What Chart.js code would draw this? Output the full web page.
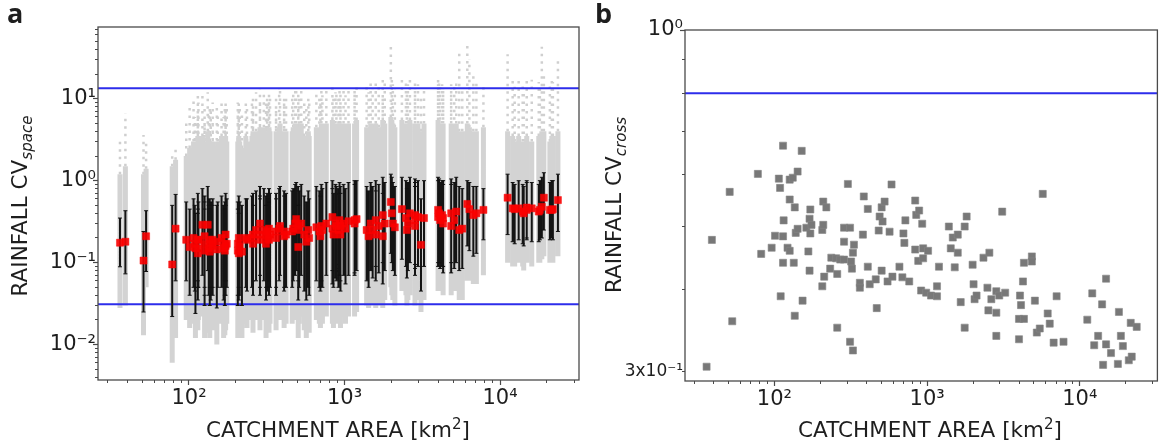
<!DOCTYPE html>
<html>
<head>
<meta charset="utf-8">
<script src="https://cdn.jsdelivr.net/npm/chart.js@4.4.1/dist/chart.umd.min.js"></script>
<style>
  html, body { margin: 0; padding: 0; background: #fff; overflow: hidden; }
  body { width: 1161px; height: 443px; position: relative; font-family: "DejaVu Sans", sans-serif; color: #1e1e1e; }
  canvas { position: absolute; top: 0; }
  #chartA { left: 0; }
  #chartB { left: 590px; }
  .tag { position: absolute; top: -1px; font: bold 27px "Open Sans", sans-serif; line-height: 1; }
  .xt, .yt { position: absolute; font-size: 21.5px; line-height: 1; white-space: nowrap; }
  .xt { top: 419px; transform: translateX(-50%); }
  .yt { transform: translate(-50%, -50%) rotate(-90deg); }
  sub { font-size: 0.7em; font-style: italic; vertical-align: -0.3em; line-height: 0; }
  sup { font-size: 0.7em; vertical-align: 0.5em; line-height: 0; }
</style>
</head>
<body>
<canvas id="chartA" width="590" height="443"></canvas>
<canvas id="chartB" width="573" height="443"></canvas>
<div class="tag" style="left:7px">a</div>
<div class="tag" style="left:595px">b</div>
<div class="yt" style="left:20px; top:206px">RAINFALL CV<sub>space</sub></div>
<div class="yt" style="left:614px; top:205px">RAINFALL CV<sub>cross</sub></div>
<div class="xt" style="left:338px">CATCHMENT AREA [km<sup>2</sup>]</div>
<div class="xt" style="left:930px">CATCHMENT AREA [km<sup>2</sup>]</div>
<script>
// catchment areas [km2], one per catchment, shared by both panels
const areaKm2 = [
  36, 39, 51, 53, 78, 82, 96, 101, 107, 109,
  110, 114, 114, 114, 115, 122, 126, 126, 126, 132,
  134, 136, 136, 138, 142, 142, 151, 153, 162, 167,
  170, 170, 172, 172, 175, 206, 206, 209, 209, 212,
  219, 232, 236, 254, 258, 258, 270, 286, 286, 286,
  303, 313, 313, 318, 322, 327, 327, 332, 363, 363,
  380, 385, 409, 409, 421, 461, 468, 482, 489, 504,
  504, 511, 527, 551, 568, 585, 593, 659, 689, 700,
  710, 721, 764, 836, 836, 849, 875, 887, 914, 929,
  942, 942, 986, 1015, 1061, 1161, 1161, 1196, 1388, 1429,
  1473, 1517, 1588, 1588, 1660, 1762, 1762, 1815, 1986, 2015,
  2046, 2108, 2339, 2483, 2519, 2557, 2634, 2840, 2840, 2840,
  2968, 3103, 3245, 3997, 3997, 4058, 4120, 4244, 4306, 4306,
  4852, 4852, 5078, 5229, 5467, 5718, 6161, 6353, 6737, 7047,
  7820, 11190, 12060, 12420, 13180, 13990, 14200, 14850, 14850, 16000,
  17750, 18030, 18570, 19140, 20920, 21540, 21870, 23570
];

// panel b: cross CV per catchment
const cvCross = [
  0.305, 0.477, 0.565, 0.358, 0.602, 0.454, 0.464, 0.484, 0.592, 0.573,
  0.391, 0.665, 0.483, 0.440, 0.511, 0.464, 0.590, 0.550, 0.459, 0.594,
  0.440, 0.535, 0.365, 0.489, 0.607, 0.496, 0.653, 0.385, 0.498, 0.458,
  0.514, 0.428, 0.531, 0.488, 0.503, 0.494, 0.405, 0.546, 0.503, 0.419,
  0.535, 0.431, 0.448, 0.447, 0.423, 0.350, 0.445, 0.498, 0.474, 0.445,
  0.581, 0.498, 0.333, 0.442, 0.431, 0.456, 0.323, 0.469, 0.410, 0.403,
  0.486, 0.556, 0.532, 0.434, 0.408, 0.415, 0.375, 0.493, 0.518, 0.535,
  0.428, 0.509, 0.546, 0.412, 0.491, 0.580, 0.419, 0.434, 0.418, 0.488,
  0.472, 0.511, 0.412, 0.548, 0.461, 0.521, 0.443, 0.529, 0.399, 0.505,
  0.463, 0.447, 0.396, 0.459, 0.392, 0.391, 0.405, 0.434, 0.500, 0.463,
  0.481, 0.433, 0.486, 0.456, 0.383, 0.500, 0.350, 0.518, 0.437, 0.408,
  0.387, 0.392, 0.448, 0.403, 0.372, 0.456, 0.387, 0.398, 0.369, 0.340,
  0.392, 0.527, 0.396, 0.361, 0.336, 0.392, 0.379, 0.412, 0.440, 0.361,
  0.450, 0.442, 0.385, 0.344, 0.349, 0.561, 0.368, 0.355, 0.332, 0.391,
  0.333, 0.360, 0.395, 0.329, 0.340, 0.380, 0.307, 0.416, 0.330, 0.320,
  0.308, 0.370, 0.340, 0.328, 0.312, 0.356, 0.316, 0.351
];

// panel a: spatial CV per catchment (median, error bar ends, spread of all events)
const cvSpaceMedian = [
  0.175, 0.18, 0.106, 0.21, 0.095, 0.26, 0.19, 0.155, 0.20, 0.17,
  0.15, 0.19, 0.15, 0.13, 0.19, 0.29, 0.21, 0.17, 0.14, 0.29,
  0.15, 0.136, 0.19, 0.17, 0.19, 0.16, 0.145, 0.18, 0.20, 0.15,
  0.17, 0.14, 0.22, 0.16, 0.17, 0.17, 0.14, 0.20, 0.13, 0.16,
  0.136, 0.20, 0.19, 0.20, 0.22, 0.17, 0.25, 0.30, 0.22, 0.19,
  0.25, 0.21, 0.17, 0.24, 0.20, 0.26, 0.19, 0.22, 0.24, 0.20,
  0.26, 0.28, 0.24, 0.21, 0.22, 0.24, 0.26, 0.30, 0.34, 0.28,
  0.155, 0.25, 0.30, 0.22, 0.18, 0.25, 0.20, 0.27, 0.24, 0.21,
  0.28, 0.25, 0.30, 0.36, 0.26, 0.22, 0.30, 0.28, 0.25, 0.33,
  0.22, 0.28, 0.30, 0.26, 0.32, 0.33, 0.30, 0.34, 0.25, 0.21,
  0.30, 0.25, 0.33, 0.22, 0.28, 0.38, 0.21, 0.30, 0.55, 0.40,
  0.30, 0.27, 0.45, 0.35, 0.25, 0.30, 0.40, 0.38, 0.33, 0.28,
  0.36, 0.165, 0.35, 0.44, 0.36, 0.40, 0.33, 0.38, 0.30, 0.35,
  0.28, 0.40, 0.33, 0.42, 0.25, 0.26, 0.52, 0.45, 0.38, 0.40,
  0.44, 0.62, 0.46, 0.45, 0.46, 0.42, 0.40, 0.44, 0.47, 0.46,
  0.42, 0.44, 0.48, 0.62, 0.44, 0.44, 0.45, 0.58
];
const cvSpaceLow = [
  0.089, 0.073, 0.025, 0.078, 0.022, 0.06, 0.06, 0.04, 0.05, 0.045,
  0.024, 0.06, 0.05, 0.035, 0.05, 0.07, 0.05, 0.04, 0.03, 0.08,
  0.04, 0.03, 0.05, 0.035, 0.05, 0.04, 0.028, 0.05, 0.05, 0.035,
  0.04, 0.03, 0.06, 0.04, 0.05, 0.04, 0.03, 0.05, 0.035, 0.04,
  0.03, 0.05, 0.045, 0.05, 0.06, 0.04, 0.06, 0.07, 0.05, 0.04,
  0.06, 0.05, 0.035, 0.05, 0.045, 0.06, 0.04, 0.05, 0.05, 0.04,
  0.06, 0.07, 0.05, 0.045, 0.05, 0.05, 0.06, 0.07, 0.08, 0.06,
  0.035, 0.05, 0.07, 0.045, 0.035, 0.05, 0.04, 0.06, 0.05, 0.045,
  0.06, 0.05, 0.07, 0.08, 0.055, 0.05, 0.065, 0.06, 0.05, 0.07,
  0.045, 0.06, 0.07, 0.055, 0.07, 0.075, 0.07, 0.08, 0.06, 0.05,
  0.08, 0.065, 0.09, 0.06, 0.075, 0.10, 0.055, 0.08, 0.13, 0.10,
  0.08, 0.07, 0.11, 0.09, 0.065, 0.08, 0.10, 0.095, 0.085, 0.07,
  0.09, 0.045, 0.09, 0.10, 0.09, 0.10, 0.085, 0.09, 0.075, 0.09,
  0.075, 0.10, 0.085, 0.10, 0.08, 0.085, 0.16, 0.14, 0.12, 0.13,
  0.19, 0.22, 0.18, 0.17, 0.19, 0.17, 0.16, 0.19, 0.20, 0.18,
  0.18, 0.19, 0.20, 0.25, 0.19, 0.20, 0.19, 0.24
];
const cvSpaceHigh = [
  0.35, 0.43, 0.24, 0.43, 0.50, 0.68, 0.55, 0.45, 0.60, 0.50,
  0.40, 0.70, 0.45, 0.40, 0.55, 0.80, 0.65, 0.55, 0.45, 0.85,
  0.50, 0.45, 0.60, 0.55, 0.60, 0.50, 0.50, 0.55, 0.65, 0.50,
  0.55, 0.45, 0.70, 0.50, 0.60, 0.55, 0.45, 0.65, 0.40, 0.55,
  0.50, 0.60, 0.60, 0.65, 0.70, 0.50, 0.75, 0.85, 0.65, 0.60,
  0.80, 0.65, 0.50, 0.70, 0.60, 0.80, 0.55, 0.70, 0.70, 0.60,
  0.80, 0.85, 0.75, 0.65, 0.70, 0.75, 0.80, 0.90, 0.95, 0.85,
  0.50, 0.75, 0.90, 0.65, 0.55, 0.75, 0.60, 0.85, 0.75, 0.65,
  0.90, 0.80, 0.95, 1.0, 0.80, 0.70, 0.90, 0.85, 0.80, 0.95,
  0.70, 0.85, 0.90, 0.80, 0.95, 1.0, 0.90, 1.0, 0.85, 0.75,
  0.95, 0.85, 1.0, 0.75, 0.90, 1.1, 0.70, 0.95, 1.2, 1.1,
  0.95, 0.85, 1.1, 1.0, 0.80, 0.95, 1.1, 1.05, 0.95, 0.85,
  1.0, 0.60, 1.0, 1.1, 1.0, 1.05, 0.95, 1.0, 0.90, 1.0,
  0.90, 1.05, 0.95, 1.1, 0.85, 0.80, 1.0, 0.95, 0.85, 0.85,
  0.80, 1.2, 0.95, 0.90, 1.0, 0.90, 0.85, 0.95, 1.0, 0.95,
  0.90, 1.0, 1.1, 1.25, 0.95, 1.0, 1.0, 1.2
];
const cvSpaceMin = [
  0.028, 0.030, 0.013, 0.05, 0.006, 0.012, 0.02, 0.016, 0.018, 0.02,
  0.012, 0.02, 0.016, 0.015, 0.02, 0.022, 0.018, 0.015, 0.012, 0.025,
  0.014, 0.012, 0.02, 0.016, 0.018, 0.015, 0.01, 0.02, 0.018, 0.012,
  0.015, 0.013, 0.02, 0.015, 0.018, 0.015, 0.012, 0.02, 0.014, 0.015,
  0.012, 0.018, 0.016, 0.02, 0.02, 0.014, 0.02, 0.022, 0.016, 0.015,
  0.02, 0.016, 0.012, 0.018, 0.016, 0.02, 0.014, 0.018, 0.018, 0.015,
  0.02, 0.022, 0.018, 0.016, 0.018, 0.018, 0.02, 0.022, 0.025, 0.02,
  0.012, 0.018, 0.022, 0.015, 0.012, 0.018, 0.014, 0.02, 0.018, 0.016,
  0.02, 0.018, 0.022, 0.025, 0.018, 0.016, 0.02, 0.02, 0.018, 0.022,
  0.016, 0.02, 0.022, 0.018, 0.022, 0.024, 0.022, 0.025, 0.03, 0.028,
  0.035, 0.03, 0.035, 0.028, 0.03, 0.04, 0.028, 0.035, 0.05, 0.04,
  0.035, 0.03, 0.045, 0.04, 0.03, 0.035, 0.04, 0.04, 0.035, 0.03,
  0.035, 0.025, 0.035, 0.05, 0.045, 0.05, 0.045, 0.05, 0.04, 0.045,
  0.04, 0.05, 0.045, 0.05, 0.035, 0.035, 0.06, 0.06, 0.055, 0.055,
  0.07, 0.10, 0.09, 0.09, 0.10, 0.09, 0.08, 0.10, 0.10, 0.09,
  0.10, 0.10, 0.11, 0.12, 0.10, 0.10, 0.10, 0.12
];
const cvSpaceDense = [
  1.2, 1.5, 1.2, 1.4, 1.5, 1.8, 2.0, 2.5, 3.0, 2.5,
  2.0, 3.5, 2.5, 2.0, 3.0, 3.5, 3.0, 2.5, 2.2, 4.0,
  2.5, 2.0, 3.0, 2.8, 3.0, 2.5, 2.5, 3.0, 3.5, 2.5,
  3.0, 2.5, 3.5, 2.8, 3.0, 3.0, 2.5, 3.5, 2.2, 3.0,
  2.5, 3.5, 3.0, 3.5, 4.0, 2.8, 4.0, 4.5, 3.5, 3.0,
  4.5, 3.5, 2.8, 4.0, 3.5, 4.5, 3.0, 4.0, 4.0, 3.5,
  4.5, 5.0, 4.0, 3.5, 4.0, 4.0, 4.5, 5.0, 5.0, 4.5,
  3.0, 4.0, 5.0, 3.5, 3.0, 4.0, 3.5, 4.5, 4.0, 3.5,
  5.0, 4.5, 5.0, 5.5, 4.5, 4.0, 5.0, 4.5, 4.0, 5.0,
  4.0, 4.5, 5.0, 4.5, 5.0, 5.0, 4.5, 5.5, 4.5, 4.0,
  5.0, 4.5, 5.0, 4.0, 4.5, 5.5, 4.0, 5.0, 6.0, 5.5,
  5.0, 4.5, 5.5, 5.0, 4.5, 5.0, 5.5, 5.0, 5.0, 4.5,
  5.0, 4.0, 5.0, 5.5, 5.0, 5.0, 4.5, 5.0, 4.5, 5.0,
  4.5, 5.0, 4.5, 5.0, 4.0, 4.0, 5.0, 4.5, 4.0, 4.0,
  4.5, 4.0, 3.5, 3.0, 3.5, 3.0, 3.0, 3.5, 3.5, 3.0,
  3.5, 3.5, 4.0, 4.0, 3.0, 3.5, 3.5, 4.0
];
const cvSpaceMax = [
  3.4, 6.6, 3.6, 3.0, 2.2, 2.5, 5, 8, 10, 6,
  5, 11, 7, 5, 9, 12, 8, 6, 5, 12,
  7, 6, 8, 7, 9, 6, 8, 7, 9, 6,
  8, 7, 10, 6, 8, 9, 7, 10, 6, 8,
  7, 9, 8, 10, 11, 7, 12, 13, 9, 8,
  12, 10, 7, 11, 9, 12, 8, 10, 11, 8,
  13, 14, 10, 9, 11, 10, 12, 13, 14, 12,
  8, 11, 13, 9, 8, 11, 9, 12, 10, 9,
  13, 11, 14, 15, 11, 10, 12, 12, 10, 13,
  9, 12, 13, 11, 13, 14, 12, 14, 15, 12,
  16, 13, 17, 12, 14, 18, 11, 16, 45, 18,
  15, 13, 18, 16, 12, 15, 17, 16, 14, 13,
  15, 11, 14, 18, 15, 16, 14, 15, 13, 14,
  13, 15, 14, 16, 37, 13, 47, 30, 20, 16,
  15, 35, 18, 14, 18, 16, 12, 18, 15, 17,
  16, 14, 43, 20, 15, 18, 16, 30
];

// reference lines
const aLimits = [13.4, 0.031];
const bLimits = [0.80];

// axes
const xMin = 26, xMax = 32200;
const xTicks = [100, 1000, 10000];
const xTickLabels = ['10²', '10³', '10⁴'];
const aYMin = 0.0037, aYMax = 75;
const aYTicks = [0.01, 0.1, 1, 10];
const aYTickLabels = ['10⁻²', '10⁻¹', '10⁰', '10¹'];
const bYMin = 0.29, bYMax = 1.0;
const bYTicks = [0.3, 1];
const bYTickLabels = ['3x10⁻¹', '10⁰'];

const FONT = '"DejaVu Sans", sans-serif';
const axisGray = '#4a4a4a';
const blue = 'rgb(45,45,235)';

function minorTicks(min, max) {
  const out = [];
  for (let e = Math.floor(Math.log10(min)); e <= Math.ceil(Math.log10(max)); e++) {
    for (let m = 2; m <= 9; m++) {
      const v = m * Math.pow(10, e);
      if (v >= min && v <= max) out.push(v);
    }
  }
  return out;
}

function spans(lo, hi) {
  return areaKm2.flatMap((a, i) => [{x: a, y: lo[i]}, {x: a, y: hi[i]}, {x: a, y: null}]);
}
function points(vals) {
  return areaKm2.map((a, i) => ({x: a, y: vals[i]}));
}
function hline(v) {
  return {data: [{x: xMin, y: v}, {x: xMax, y: v}], showLine: true, pointRadius: 0,
          borderColor: blue, borderWidth: 2, order: 3};
}

function scales(yMin, yMax, yTicks, yLabels, yWidth, xHeight, yFont, yTickColor) {
  return {
    x: {
      type: 'logarithmic', position: 'bottom', min: xMin, max: xMax, weight: 1,
      afterBuildTicks: s => { s.ticks = xTicks.map(v => ({value: v})); },
      afterFit: s => { s.height = xHeight; },
      ticks: {callback: (v, i) => xTickLabels[i], autoSkip: false, maxRotation: 0, padding: 1,
              font: {family: FONT, size: 21}, color: '#1e1e1e'},
      grid: {drawOnChartArea: false, tickLength: 5, tickColor: axisGray, tickWidth: 1.2},
      border: {display: false}
    },
    xMinor: {
      type: 'logarithmic', position: 'bottom', min: xMin, max: xMax, weight: -1,
      afterBuildTicks: s => { s.ticks = minorTicks(xMin, xMax).map(v => ({value: v})); },
      afterFit: s => { s.height = 0; },
      ticks: {display: false},
      grid: {drawOnChartArea: false, tickLength: 3, tickColor: axisGray, tickWidth: 1},
      border: {display: false}
    },
    y: {
      type: 'logarithmic', position: 'left', min: yMin, max: yMax, weight: 1,
      afterBuildTicks: s => { s.ticks = yTicks.map(v => ({value: v})); },
      afterFit: s => { s.width = yWidth; },
      ticks: {callback: (v, i) => yLabels[i], autoSkip: false, padding: -3,
              font: yFont, color: '#1e1e1e'},
      grid: {drawOnChartArea: false, tickLength: 5, tickColor: yTickColor, tickWidth: 1.2},
      border: {display: false}
    },
    yMinor: {
      type: 'logarithmic', position: 'left', min: yMin, max: yMax, weight: -1,
      afterBuildTicks: s => { s.ticks = minorTicks(yMin, yMax).map(v => ({value: v})); },
      afterFit: s => { s.width = 0; },
      ticks: {display: false},
      grid: {drawOnChartArea: false, tickLength: 3, tickColor: axisGray, tickWidth: 1},
      border: {display: false}
    }
  };
}

const frame = {
  id: 'frame',
  afterDatasetsDraw(chart) {
    const {ctx, chartArea: {left, top, right, bottom}} = chart;
    ctx.save();
    ctx.strokeStyle = axisGray;
    ctx.lineWidth = 1.3;
    ctx.strokeRect(left, top, right - left, bottom - top);
    ctx.restore();
  }
};

const common = {
  responsive: false,
  animation: false,
  events: [],
  plugins: {legend: {display: false}, tooltip: {enabled: false}}
};

new Chart(document.getElementById('chartA'), {
  type: 'scatter',
  data: {
    datasets: [
      {data: points(cvSpaceMedian), pointStyle: 'rect', pointRadius: 5,
       backgroundColor: 'rgba(250,0,0,0.9)', borderColor: 'rgba(250,0,0,0.9)', borderWidth: 0.5, order: 0},
      {data: areaKm2.flatMap((a, i) => [{x: a, y: cvSpaceLow[i]}, {x: a, y: cvSpaceHigh[i]}]),
       pointStyle: 'line', pointRadius: 2, borderColor: '#111', borderWidth: 1, order: 1},
      {data: spans(cvSpaceLow, cvSpaceHigh), showLine: true, pointRadius: 0,
       borderColor: '#141414', borderWidth: 2, order: 2},
      hline(aLimits[0]),
      hline(aLimits[1]),
      {data: spans(cvSpaceMin, cvSpaceDense), showLine: true, pointRadius: 0,
       borderColor: '#d3d3d3', borderWidth: 5, order: 5},
      {data: spans(cvSpaceDense, cvSpaceMax), showLine: true, pointRadius: 0,
       borderColor: '#cfcfcf', borderWidth: 2.5, borderDash: [2.5, 5], order: 6}
    ]
  },
  options: {
    ...common,
    layout: {padding: {left: 0, top: 27, right: 11, bottom: 0}},
    scales: scales(aYMin, aYMax, aYTicks, aYTickLabels, 98, 63,
                   {family: FONT, size: 21}, axisGray)
  },
  plugins: [frame]
});

new Chart(document.getElementById('chartB'), {
  type: 'scatter',
  data: {
    datasets: [
      {data: points(cvCross), pointStyle: 'rect', pointRadius: 5,
       backgroundColor: 'rgb(120,120,120)', borderColor: 'rgb(135,135,135)', borderWidth: 0.6, order: 0},
      hline(bLimits[0])
    ]
  },
  options: {
    ...common,
    layout: {padding: {left: 0, top: 30, right: 0, bottom: 0}},
    scales: scales(bYMin, bYMax, bYTicks, bYTickLabels, 95, 62,
                   ctx => ({family: FONT, size: ctx.tick && ctx.tick.value < 0.5 ? 17 : 21}),
                   ctx => (ctx.tick && ctx.tick.value < 0.5 ? 'rgba(0,0,0,0)' : axisGray))
  },
  plugins: [frame]
});
</script>
</body>
</html>
